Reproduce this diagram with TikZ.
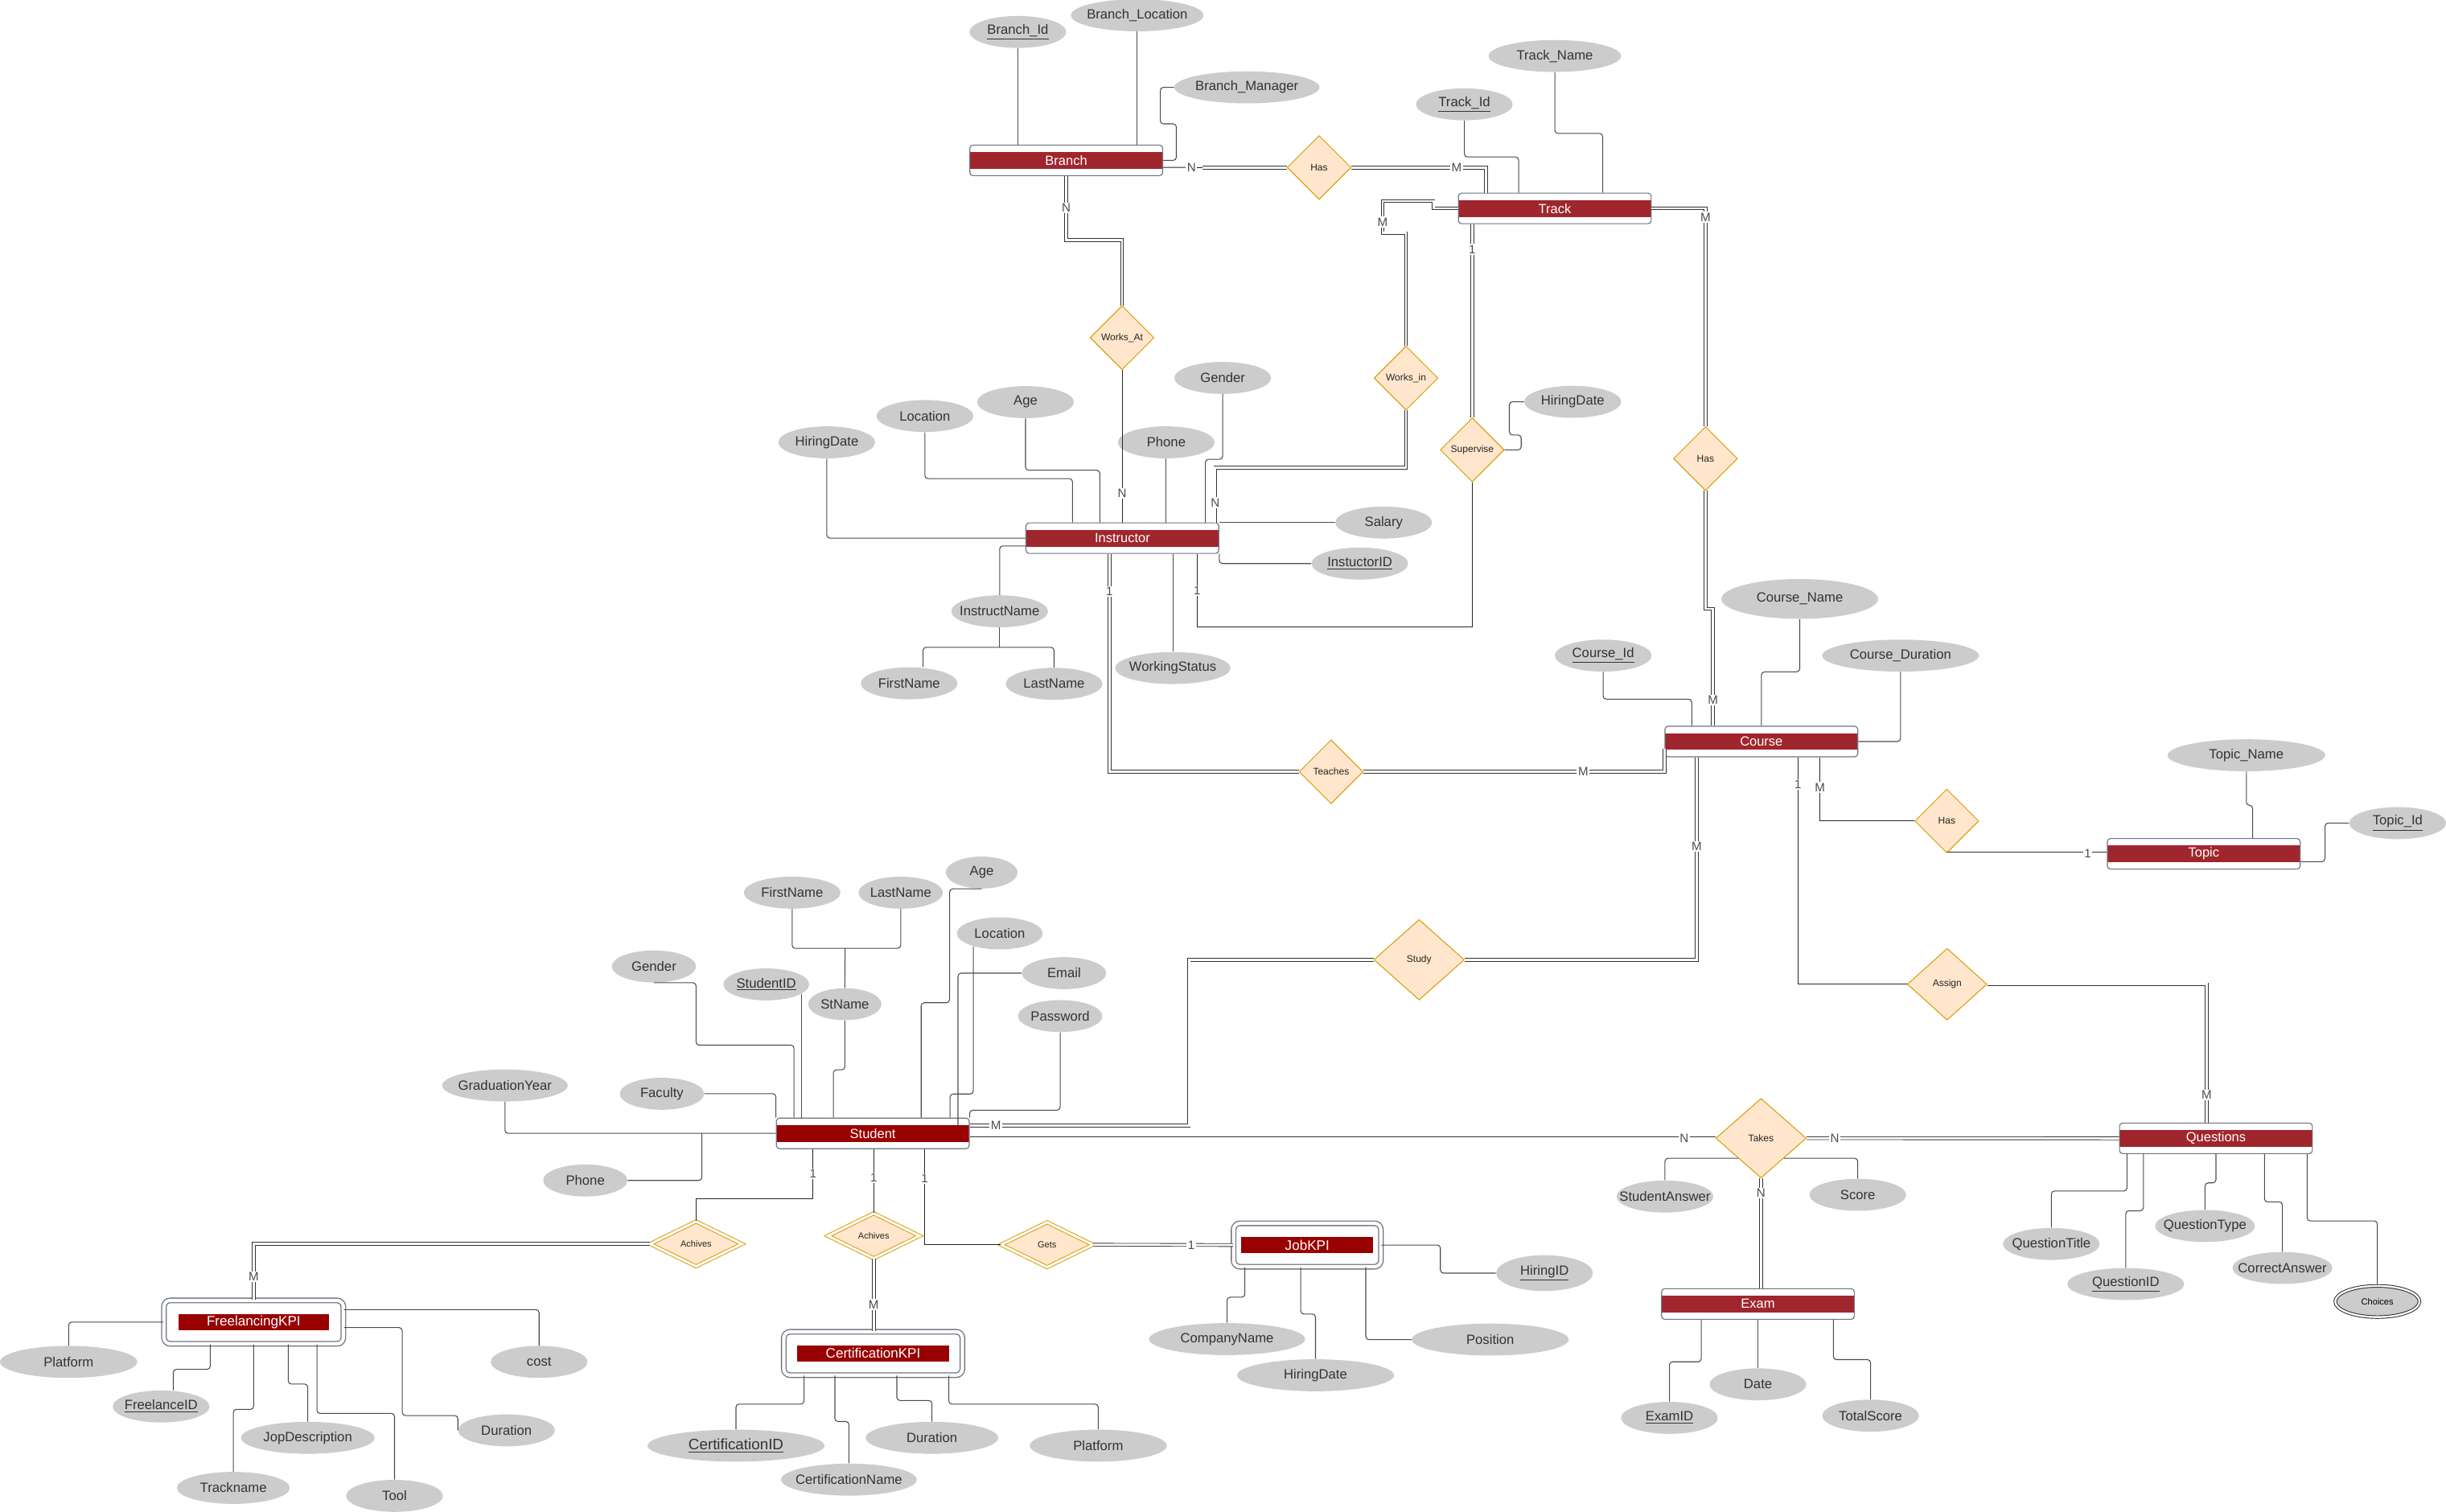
\documentclass[tikz,border=0pt]{standalone}
\usepackage{fontspec}
\setmainfont{Liberation Sans}
\usetikzlibrary{shapes.geometric}

\definecolor{attrfill}{RGB}{204,204,204}
\definecolor{attrtext}{RGB}{51,51,51}
\definecolor{entred}{RGB}{160,38,45}
\definecolor{kpired}{RGB}{153,0,0}
\definecolor{entline}{RGB}{110,118,128}
\definecolor{relfill}{RGB}{255,230,204}
\definecolor{relline}{RGB}{215,155,0}

\newcommand\attrfont{\fontsize{8.6}{10}\selectfont}
\newcommand\bigattrfont{\fontsize{9.7}{11}\selectfont}
\newcommand\entfont{\fontsize{8.5}{10}\selectfont}
\newcommand\kpifont{\fontsize{8.8}{10}\selectfont}
\newcommand\relfont{\fontsize{6.2}{7}\selectfont}
\newcommand\smallrelfont{\fontsize{5.7}{7}\selectfont}
\newcommand\cardfont{\fontsize{7.8}{9}\selectfont}

\begin{document}
\begin{tikzpicture}[x=1pt,y=-1pt,%%
  nowidth/.style={execute at begin node={\hbox to 0pt\bgroup\hss},
    execute at end node={\hss\egroup}},
  attr/.style={ellipse,fill=attrfill,draw=none,inner sep=0pt,nowidth,
    minimum width=62pt,minimum height=20.5pt,font=\attrfont,text=attrtext},
  multiattr/.style={attr,draw=black!85,line width=0.5pt,double=white,
    double distance=1.2pt,minimum width=54pt,minimum height=20pt,
    font=\smallrelfont,text=black},
  band/.store in=\bandcolor, band=entred,
  bandin/.store in=\bandinset, bandin=9pt,
  entity/.style={rectangle,rounded corners=2pt,draw=entline,line width=0.6pt,
    fill=white,minimum width=123.6pt,minimum height=19.6pt,inner sep=0pt,
    text=white,font=\entfont,
    path picture={\fill[\bandcolor,sharp corners] ([yshift=-5.4pt]path picture bounding box.west)
      rectangle ([yshift=5.4pt]path picture bounding box.east);}},
  weakentity/.style={rectangle,rounded corners=4pt,draw=entline,line width=0.7pt,
    double=white,double distance=2.2pt,fill=white,minimum height=27.8pt,
    inner sep=0pt,text=white,font=\kpifont,
    path picture={\fill[kpired,sharp corners] ([xshift=\bandinset,yshift=-5pt]path picture bounding box.west)
      rectangle ([xshift=-\bandinset,yshift=5pt]path picture bounding box.east);}},
  rel/.style={diamond,draw=relline,line width=0.5pt,fill=relfill,inner sep=0pt,nowidth,
    minimum width=41pt,minimum height=41pt,font=\relfont,text=black!85},
  weakrel/.style={rel,double=white,double distance=1.5pt,minimum width=59pt,
    minimum height=29pt,font=\smallrelfont},
  attrline/.style={draw=black!70,line width=0.55pt,rounded corners=2pt},
  conn/.style={draw=black!85,line width=0.5pt},
  total/.style={draw=black!80,line width=0.45pt,double=white,double distance=1.4pt},
  card/.style={fill=white,inner sep=0.8pt,font=\cardfont,text=black!70}
]
\path[fill=white,use as bounding box] (0,0) rectangle (1568,969);
%%
%% Entities.
\node[entity] (Branch) at (683.5,102.8) {Branch};
\node[entity] (Track) at (996.7,133.6) {Track};
\node[entity] (Instructor) at (719.5,345) {Instructor};
\node[entity] (Course) at (1129.1,475.4) {Course};
\node[entity] (Topic) at (1412.7,547.4) {Topic};
\node[entity,band=kpired] (Student) at (559.5,726.6) {Student};
\node[entity] (Questions) at (1420.5,729.8) {Questions};
\node[entity] (Exam) at (1126.9,836) {Exam};
\node[weakentity,minimum width=115pt,bandin=9.3pt] (FreelancingKPI) at (162.6,847.6) {FreelancingKPI};
\node[weakentity,minimum width=114.5pt,bandin=8.6pt] (CertificationKPI) at (559.7,867.7) {CertificationKPI};
\node[weakentity,minimum width=94.4pt,bandin=5pt] (JobKPI) at (838,798.2) {JobKPI};
%%
%% Relationships.
\node[rel] (HasBT) at (845.6,107.4) {Has};
\node[rel] (WorksAt) at (719.3,216.5) {Works\_At};
\node[rel] (WorksIn) at (901.3,242.4) {Works\_in};
\node[rel] (Supervise) at (943.8,288.4) {Supervise};
\node[rel] (HasTC) at (1093.3,294) {Has};
\node[rel] (Teaches) at (853.3,494.8) {Teaches};
\node[rel] (HasCT) at (1248,526.4) {Has};
\node[rel,minimum width=51pt,minimum height=46pt] (Assign) at (1248.2,631) {Assign};
\node[rel,minimum width=58pt,minimum height=51.6pt] (Study) at (909.7,615.3) {Study};
\node[rel,minimum width=58pt,minimum height=51pt] (Takes) at (1128.9,729.7) {Takes};
\node[weakrel] (AchivesF) at (446.2,797.5) {Achives};
\node[weakrel] (AchivesC) at (560.1,792.3) {Achives};
\node[weakrel] (Gets) at (671.2,798) {Gets};
%%
%% Attributes of Branch and Track.
\node[attr] (BranchId) at (652.5,20.5) {\underline{Branch\_Id}};
\node[attr,minimum width=85pt] (BranchLoc) at (729,9.8) {Branch\_Location};
\node[attr,minimum width=93pt] (BranchMgr) at (799.3,56) {Branch\_Manager};
\node[attr] (TrackId) at (938.7,66.9) {\underline{Track\_Id}};
\node[attr,minimum width=85pt] (TrackName) at (996.7,35.9) {Track\_Name};
\node[attr] (SupHiring) at (1008.2,257.6) {HiringDate};
%% Attributes of Instructor.
\node[attr] (InsGender) at (783.8,242.3) {Gender};
\node[attr] (InsAge) at (657.4,257.8) {Age};
\node[attr] (InsLocation) at (592.9,266.7) {Location};
\node[attr] (InsHiring) at (530,283.6) {HiringDate};
\node[attr] (InsPhone) at (747.6,283.6) {Phone};
\node[attr] (InsSalary) at (887,335) {Salary};
\node[attr] (InsId) at (871.7,361.3) {\underline{InstuctorID}};
\node[attr] (InsName) at (640.8,391.9) {InstructName};
\node[attr] (InsFirst) at (582.8,438.1) {FirstName};
\node[attr] (InsLast) at (675.7,438.4) {LastName};
\node[attr,minimum width=74pt] (InsStatus) at (751.8,428.3) {WorkingStatus};
%% Attributes of Course and Topic.
\node[attr,minimum width=100.5pt,minimum height=25.5pt] (CourseName) at (1153.7,384) {Course\_Name};
\node[attr] (CourseId) at (1027.7,420.3) {\underline{Course\_Id}};
\node[attr,minimum width=100.5pt] (CourseDur) at (1218.3,420.3) {Course\_Duration};
\node[attr,minimum width=101pt] (TopicName) at (1440,484.2) {Topic\_Name};
\node[attr] (TopicId) at (1537,527.7) {\underline{Topic\_Id}};
%% Attributes of Student.
\node[attr] (StFirst) at (507.8,572.3) {FirstName};
\node[attr,minimum width=54pt] (StLast) at (577.4,572.3) {LastName};
\node[attr,minimum width=46pt] (StAge) at (629.3,559.4) {Age};
\node[attr,minimum width=55pt] (StLoc) at (640.9,598.4) {Location};
\node[attr,minimum width=54pt] (StGender) at (419.2,619.6) {Gender};
\node[attr,minimum width=55pt] (StId) at (491.2,631.1) {\underline{StudentID}};
\node[attr,minimum width=47pt] (StName) at (541.6,643.8) {StName};
\node[attr,minimum width=54pt] (StEmail) at (682.1,623.9) {Email};
\node[attr,minimum width=54pt] (StPass) at (679.6,651.4) {Password};
\node[attr,minimum width=54pt] (StFaculty) at (424.3,701.2) {Faculty};
\node[attr,minimum width=80.5pt] (StGrad) at (323.7,695.9) {GraduationYear};
\node[attr,minimum width=54pt] (StPhone) at (375.2,756.8) {Phone};
%% Attributes of Takes, Exam and Questions.
\node[attr] (StAnswer) at (1067.3,767.1) {StudentAnswer};
\node[attr] (Score) at (1190.9,766) {Score};
\node[attr] (ExamID) at (1070.2,909) {\underline{ExamID}};
\node[attr] (ExamDate) at (1126.9,887.5) {Date};
\node[attr] (TotalScore) at (1199.1,907.6) {TotalScore};
\node[attr] (QTitle) at (1315,797.5) {QuestionTitle};
\node[attr,minimum width=75pt] (QID) at (1362.7,823.2) {\underline{QuestionID}};
\node[attr,minimum width=64pt] (QType) at (1413.5,786) {QuestionType};
\node[attr,minimum width=64pt] (QCorrect) at (1463.1,812.9) {CorrectAnswer};
\node[multiattr] (Choices) at (1524,834.4) {Choices};
%% Attributes of the KPIs.
\node[attr,minimum width=88pt] (FPlatform) at (44,873.1) {Platform};
\node[attr] (FreelanceID) at (103.3,901.7) {\underline{FreelanceID}};
\node[attr,minimum width=85.6pt] (FJop) at (197.3,921.8) {JopDescription};
\node[attr,minimum width=72.4pt] (FTrack) at (149.6,953.9) {Trackname};
\node[attr] (FTool) at (252.9,959) {Tool};
\node[attr] (FDuration) at (324.7,917) {Duration};
\node[attr] (FCost) at (345.6,873.1) {cost};
\node[attr,minimum width=113.5pt,font=\bigattrfont] (CertID) at (471.8,926.8) {\underline{CertificationID}};
\node[attr,minimum width=87pt] (CertName) at (544.2,948.6) {CertificationName};
\node[attr,minimum width=85pt] (CDuration) at (597.4,921.8) {Duration};
\node[attr,minimum width=87.8pt] (CPlatform) at (704,926.8) {Platform};
\node[attr,minimum width=100pt] (JCompany) at (786.6,858.5) {CompanyName};
\node[attr,minimum width=100.6pt] (JHiring) at (843.3,881.7) {HiringDate};
\node[attr,minimum width=100.6pt] (JPosition) at (955.3,858.8) {Position};
\node[attr,minimum height=23pt] (JHiringId) at (990.1,816.2) {\underline{HiringID}};
%%
%% Branch and Track.
\draw[attrline] (BranchId.south) -- (BranchId.south |- Branch.north);
\draw[attrline] (BranchLoc.south) -- (BranchLoc.south |- Branch.north);
\draw[attrline] (BranchMgr.west) -- ++(-8.8,0) -- ++(0,23.4) -- ++(10.3,0) |- (Branch.east);
\draw[total] (HasBT.west) -- ++(-54,0) coordinate (BranchN);
\draw[conn] (BranchN) -- node[card,pos=0.28]{N} ([yshift=-4.5pt]Branch.east);
\draw[total] (HasBT.east) -| node[card,pos=0.39]{M} ([xshift=-44pt]Track.north);
\draw[total] (Branch.south) -- node[card]{N} ++(0,41) -| (WorksAt.north);
\draw[attrline] (TrackId.south) -- ++(0,23.3) -| ([xshift=-23.2pt]Track.north);
\draw[attrline] (TrackName.south) -- ++(0,39.2) -| ([xshift=30.7pt]Track.north);
\draw[total] (WorksIn.north) -- ++(0,-72.2) -- ++(-15,0) -- node[card,pos=0.35]{M} ++(0,-20.5)
  -- ++(32.6,0) |- (Track.west);
\draw[total] (Supervise.north) -- node[card,pos=0.87]{1} (Supervise.north |- Track.south);
\draw[total] (Track.east) -| node[card,pos=0.52]{M} (HasTC.north);
\draw[total] (HasTC.south) -- ++(0,75.5) -| node[card,pos=0.89]{M} ([xshift=-31pt]Course.north);
%% Instructor.
\draw[conn] (WorksAt.south) -- node[card,pos=0.81]{N} (WorksAt.south |- Instructor.north);
\draw[total] (WorksIn.south) -- ++(0,36.6) -| node[card,pos=0.82]{N} ([xshift=59.5pt]Instructor.north);
\draw[conn] (Supervise.south) -- ++(0,93) -| node[card,pos=0.75]{1} ([xshift=47.9pt]Instructor.south);
\draw[attrline] (Supervise.east) -- ++(10.6,0) -- ++(0,-9.5) -- ++(-7.6,0) |- (SupHiring.west);
\draw[attrline] (InsGender.south) -- ++(0,41.7) -| ([xshift=53.2pt]Instructor.north);
\draw[attrline] (InsAge.south) -- ++(0,33.2) -| ([xshift=-14.5pt]Instructor.north);
\draw[attrline] (InsLocation.south) -- ++(0,29.7) -| ([xshift=-32pt]Instructor.north);
\draw[attrline] (InsHiring.south) |- (Instructor.west);
\draw[attrline] (InsPhone.south) -- (InsPhone.south |- Instructor.north);
\draw[attrline] (InsSalary.west) -- (InsSalary.west -| Instructor.east);
\draw[attrline] (InsId.west) -| (Instructor.south east);
\draw[attrline] ([yshift=-5pt]Instructor.west) -| (InsName.north);
\coordinate (InsJoin) at (640.8,415);
\draw[attrline] (InsName.south) -- (InsJoin);
\draw[attrline] (InsJoin) -| ([xshift=8.9pt]InsFirst.north);
\draw[attrline] (InsJoin) -| (InsLast.north);
\draw[attrline] (InsStatus.north) -- (InsStatus.north |- Instructor.south);
\draw[total] ([xshift=-8.3pt]Instructor.south) |- node[card,pos=0.086]{1} (Teaches.west);
%% Course and Topic.
\draw[total] (Teaches.east) -| node[card,pos=0.365]{M} ([yshift=-4.5pt]Course.west);
\draw[attrline] (CourseId.south) -- ++(0,17.5) -| ([xshift=-44.6pt]Course.north);
\draw[attrline] (CourseName.south) -- ++(0,33.8) -| (Course.north);
\draw[attrline] (CourseDur.south) |- (Course.east);
\draw[total] ([xshift=-41.5pt]Course.south) |- node[card,pos=0.22]{M} (Study.east);
\draw[conn] ([xshift=37.5pt]Course.south) |- node[card,pos=0.235]{M} (HasCT.west);
\draw[conn] ([xshift=23.5pt]Course.south) |- node[card,pos=0.06]{1} (Assign.west);
\draw[total] (HasCT.south) -- node[card,pos=0.88]{1} (HasCT.south -| Topic.west);
\draw[attrline] (TopicName.south) -- ++(0,21.6) -| ([xshift=31.3pt]Topic.north);
\draw[attrline] (TopicId.west) -- ++(-15.4,0) |- ([yshift=-5pt]Topic.east);
\draw[total] (Assign.east) -| node[card,pos=0.9]{M} ([xshift=-6pt]Questions.north);
%% Student, Takes, Exam and Questions.
\draw[total] (Study.west) -- ++(-118.3,0) |- node[card,pos=0.94]{M} ([yshift=5pt]Student.east);
\draw[total] (Takes.west) -- node[card,pos=0.042]{N} (Takes.west -| Student.east);
\draw[total] (Takes.east) -- node[card,pos=0.09]{N} (Questions.west);
\draw[total] (Takes.south) -- node[card,pos=0.135]{N} (Takes.south |- Exam.north);
\draw[attrline] (Takes.south west) -| (StAnswer.north);
\draw[attrline] (Takes.south east) -| (Score.north);
\coordinate (StJoin) at (541.7,608);
\draw[attrline] (StFirst.south) |- (StJoin);
\draw[attrline] (StLast.south) |- (StJoin);
\draw[attrline] (StJoin) -- (StName.north);
\draw[attrline] (StName.south) -- ++(0,31.6) -| ([xshift=-25.3pt]Student.north);
\draw[attrline] (StId.-15) -- (StId.-15 |- Student.north);
\draw[attrline] (StGender.south) -| ++(27,40) -| ([xshift=-50.5pt]Student.north);
\draw[attrline] (StFaculty.east) -| (Student.north west);
\draw[attrline] (StAge.south) -- ++(-20.6,0) -- ++(0,73) -| ([xshift=31pt]Student.north);
\draw[attrline] (StLoc.206) -- ++(0,94.7) -| ([xshift=49.5pt]Student.north);
\draw[attrline] (StEmail.west) -| ([xshift=54.6pt,yshift=-5.2pt]Student.north);
\draw[attrline] (StPass.south) -- ++(0,49.9) -| (Student.north east);
\draw[attrline] (StGrad.south) |- (Student.west);
\draw[attrline] (StPhone.east) -| ([xshift=-47.5pt]Student.west);
\draw[attrline] (QTitle.north) -- ++(0,-23.5) -| ([xshift=-57pt]Questions.south);
\draw[attrline] (QID.north) -- ++(0,-36.5) -| ([xshift=-46.5pt]Questions.south);
\draw[attrline] (QType.north) -- ++(0,-17.2) -| (Questions.south);
\draw[attrline] (QCorrect.north) -- ++(0,-31.9) -| ([xshift=31.1pt]Questions.south);
\draw[attrline] (Choices.north) -- ++(0,-41.4) -| ([xshift=58.5pt]Questions.south);
\draw[attrline] (ExamID.north) -- ++(0,-25.5) -| ([xshift=-36.3pt]Exam.south);
\draw[attrline] (ExamDate.north) -- (ExamDate.north |- Exam.south);
\draw[attrline] (TotalScore.north) -- ++(0,-25.5) -| ([xshift=48.4pt]Exam.south);
%% The KPIs.
\draw[conn] ([xshift=-38.3pt]Student.south) -- node[card]{1} ++(0,31.8) -| (AchivesF.north);
\draw[conn] (AchivesC.north |- Student.south) -- node[card,pos=0.45]{1} (AchivesC.north);
\draw[conn] ([xshift=33.2pt]Student.south) |- node[card,pos=0.154]{1} (Gets.west);
\draw[total] (AchivesF.west) -| node[card,pos=0.795]{M} (FreelancingKPI.north);
\draw[total] (AchivesC.south) -- node[card,pos=0.63]{M} (AchivesC.south |- CertificationKPI.north);
\draw[total] (Gets.east) -- node[card,pos=0.7]{1} (JobKPI.west);
\draw[attrline] (FreelancingKPI.west) -| (FPlatform.north);
\draw[attrline] ([xshift=-27.8pt]FreelancingKPI.south) -- ++(0,16) -| ([xshift=7.8pt]FreelanceID.north);
\draw[attrline] (FreelancingKPI.south) -- ++(0,41.7) -| (FTrack.north);
\draw[attrline] ([xshift=22.2pt]FreelancingKPI.south) -- ++(0,25.5) -| (FJop.north);
\draw[attrline] ([xshift=40.6pt]FreelancingKPI.south) -- ++(0,44.3) -| (FTool.north);
\draw[attrline] ([yshift=-3.5pt]FreelancingKPI.east) -- ++(37.4,0) -- ++(0,56.4) -| (FDuration.west);
\draw[attrline] ([yshift=8pt]FreelancingKPI.east) -| (FCost.north);
\draw[attrline] ([xshift=-44.3pt]CertificationKPI.south) -- ++(0,18.2) -| (CertID.north);
\draw[attrline] ([xshift=-24.5pt]CertificationKPI.south) -- ++(0,29.4) -| (CertName.north);
\draw[attrline] ([xshift=15.2pt]CertificationKPI.south) -- ++(0,15.9) -| (CDuration.north);
\draw[attrline] ([xshift=48.5pt]CertificationKPI.south) -- ++(0,18.2) -| (CPlatform.north);
\draw[attrline] ([xshift=-40pt]JobKPI.south) -- ++(0,19.2) -| (JCompany.north);
\draw[attrline] ([xshift=-4.2pt]JobKPI.south) -- ++(0,30) -| (JHiring.north);
\draw[attrline] ([xshift=37.5pt]JobKPI.south) |- (JPosition.west);
\draw[attrline] (JobKPI.east) -- ++(37.8,0) |- (JHiringId.west);
\end{tikzpicture}
\end{document}
